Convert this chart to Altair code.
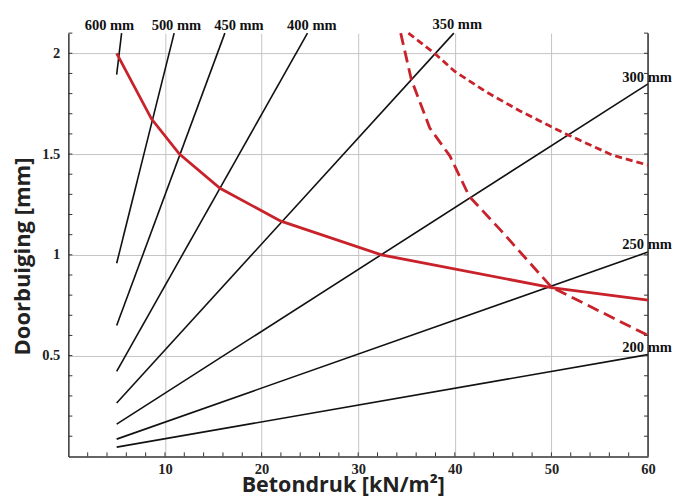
import altair as alt
import pandas as pd

# ---------------- data ----------------
thickness = ["600 mm", "500 mm", "450 mm", "400 mm", "350 mm", "300 mm", "250 mm", "200 mm"]
start_x = [5, 5, 5, 5, 5, 5, 5, 5]
start_y = [1.894, 0.958, 0.649, 0.422, 0.265, 0.160, 0.0856, 0.0458]
end_x = [5.51, 10.95, 16.2, 24.75, 39.9, 60, 60, 60]
end_y = [2.1, 2.1, 2.1, 2.1, 2.1, 1.848, 1.014, 0.505]

label_x = [4.25, 11.18, 17.65, 25.2, 40.25, 59.9, 59.9, 59.9]
label_y = [2.117, 2.117, 2.117, 2.117, 2.121, 1.858, 1.029, 0.52]

solid_x = [5, 8.6, 11.5, 15.7, 22.0, 32.4, 50.0, 60.0]
solid_y = [2.0, 1.675, 1.5, 1.33, 1.167, 1.0, 0.837, 0.775]

longdash_x = [34.4, 35.5, 37.4, 39.5, 41.5, 44.6, 50.0, 60.0]
longdash_y = [2.1, 1.87, 1.63, 1.49, 1.29, 1.13, 0.84, 0.60]

shortdash_x = [35.2, 37.9, 40.0, 43.3, 46.7, 49.8, 51.5, 56.3, 60.0]
shortdash_y = [2.1, 2.0, 1.91, 1.807, 1.715, 1.64, 1.6, 1.495, 1.445]

x_ticks = [10, 20, 30, 40, 50, 60]
y_ticks = [0.5, 1, 1.5, 2]
x_minor = [2, 4, 6, 8, 10, 12, 14, 16, 18, 20, 22, 24, 26, 28, 30, 32, 34, 36, 38, 40,
           42, 44, 46, 48, 50, 52, 54, 56, 58]
y_minor = [0.1, 0.2, 0.3, 0.4, 0.5, 0.6, 0.7, 0.8, 0.9, 1.0, 1.1, 1.2, 1.3, 1.4, 1.5,
           1.6, 1.7, 1.8, 1.9, 2.0, 2.1]
x_domain = [0, 60]
y_domain = [0, 2.1]

# ---------------- chart ----------------
W, H = 580, 423.5
RED = "#c8222b"
SERIF = "Liberation Serif"
SANS = "Open Sans"

xs = alt.Scale(domain=x_domain, nice=False, zero=False)
ys = alt.Scale(domain=y_domain, nice=False, zero=False)

lines_df = pd.DataFrame({"t": thickness, "x0": start_x, "y0": start_y, "x1": end_x, "y1": end_y})
labels_df = pd.DataFrame({"t": thickness, "x": label_x, "y": label_y})
solid_df = pd.DataFrame({"x": solid_x, "y": solid_y})
long_df = pd.DataFrame({"x": longdash_x, "y": longdash_y})
short_df = pd.DataFrame({"x": shortdash_x, "y": shortdash_y})
xminor_df = pd.DataFrame({"x": x_minor})
yminor_df = pd.DataFrame({"y": y_minor})

x_axis = alt.Axis(
    values=x_ticks, grid=True, gridColor="#c4c4c4", gridWidth=1, ticks=False,
    domainColor="#333333", domainWidth=1.5, labelFont=SERIF, labelFontWeight="bold",
    labelFontSize=14.5, labelColor="#222222", labelBaseline="alphabetic", labelPadding=17,
    format="~g",
    title="Betondruk [kN/m²]", titleFont=SANS, titleFontSize=21.5, titleFontWeight="bold",
    titleColor="#222222", titleBaseline="alphabetic", titleX=274.6, titleY=35,
    titleAnchor="middle", titleAlign="center", labelFlush=False,
)
y_axis = alt.Axis(
    values=y_ticks, grid=True, gridColor="#c4c4c4", gridWidth=1, ticks=False,
    domainColor="#333333", domainWidth=1.5, labelFont=SERIF, labelFontWeight="bold",
    labelFontSize=14.5, labelColor="#222222", labelBaseline="middle", labelPadding=8.5,
    format="~g",
    title="Doorbuiging [mm]", titleFont=SANS, titleFontSize=22, titleFontWeight="bold",
    titleColor="#222222", titleBaseline="alphabetic", titleX=-38.7, titleY=223,
    titleAngle=-90, titleAlign="center", labelFlush=False,
)

base = alt.Chart(lines_df).mark_rule(color="#111111", strokeWidth=1.6).encode(
    x=alt.X("x0:Q", scale=xs, axis=x_axis),
    y=alt.Y("y0:Q", scale=ys, axis=y_axis),
    x2="x1:Q",
    y2="y1:Q",
)

solid = alt.Chart(solid_df).mark_line(color=RED, strokeWidth=2.8).encode(
    x=alt.X("x:Q", scale=xs), y=alt.Y("y:Q", scale=ys), order="x:Q"
)
longd = alt.Chart(long_df).mark_line(color=RED, strokeWidth=2.8, strokeDash=[12, 6]).encode(
    x=alt.X("x:Q", scale=xs), y=alt.Y("y:Q", scale=ys), order="x:Q"
)
shortd = alt.Chart(short_df).mark_line(color=RED, strokeWidth=2.8, strokeDash=[7, 4]).encode(
    x=alt.X("x:Q", scale=xs), y=alt.Y("y:Q", scale=ys), order="x:Q"
)

labels = alt.Chart(labels_df).mark_text(
    font=SERIF, fontWeight="bold", fontSize=14.5, color="#111111",
    align="center", baseline="alphabetic",
).encode(x=alt.X("x:Q", scale=xs), y=alt.Y("y:Q", scale=ys), text="t:N")

# right frame line
right_line = alt.Chart(pd.DataFrame({"a": [0]})).mark_rule(color="#333333", strokeWidth=1.5).encode(
    x=alt.datum(x_domain[1], scale=xs), y=alt.datum(y_domain[0], scale=ys), y2=alt.datum(y_domain[1])
)
# inward minor ticks
bottom_ticks = alt.Chart(xminor_df).mark_rule(color="#333333", strokeWidth=1).encode(
    x=alt.X("x:Q", scale=xs), y=alt.value(H), y2=alt.value(H - 4)
)
left_ticks = alt.Chart(yminor_df).mark_rule(color="#333333", strokeWidth=1).encode(
    y=alt.Y("y:Q", scale=ys), x=alt.value(0), x2=alt.value(4)
)
right_ticks = alt.Chart(yminor_df).mark_rule(color="#333333", strokeWidth=1).encode(
    y=alt.Y("y:Q", scale=ys), x=alt.value(W), x2=alt.value(W - 4)
)

chart = alt.layer(
    base, bottom_ticks, left_ticks, right_ticks, right_line, solid, longd, shortd, labels
).properties(
    width=W, height=H,
    autosize=alt.AutoSizeParams(type="none"),
    padding={"left": 60.4, "top": 25, "right": 30, "bottom": 40.5},
    background="white",
).configure_view(stroke=None)

chart.save("out.html", embed_options={"renderer": "svg", "actions": False})
